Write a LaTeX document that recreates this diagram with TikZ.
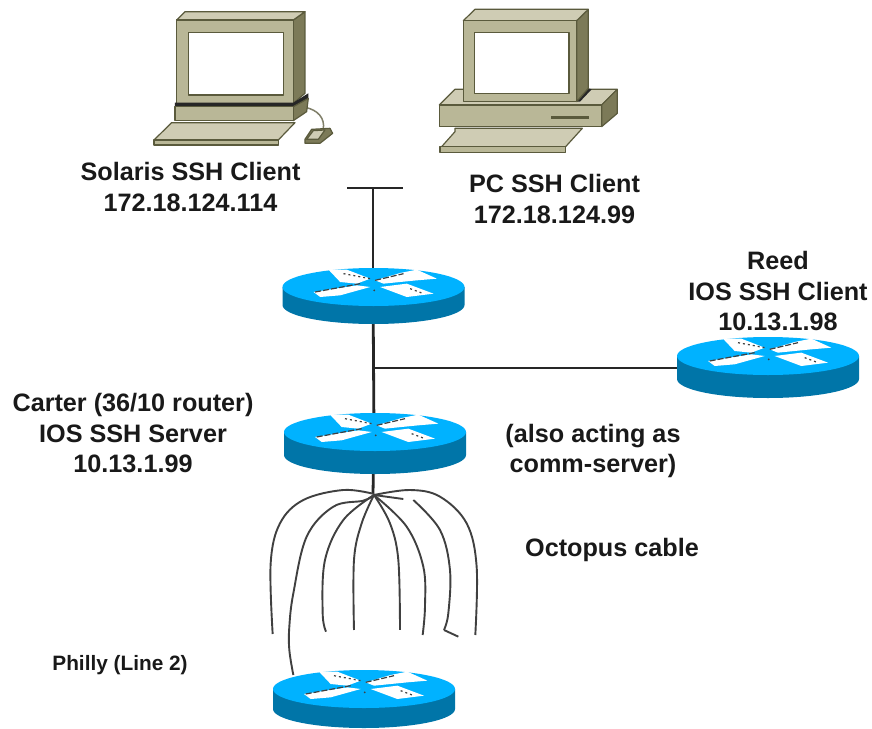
\documentclass[tikz,border=0pt]{standalone}
\usepackage{fontspec}
\setmainfont{Liberation Sans}
\definecolor{rtop}{HTML}{00B2FF}
\definecolor{rside}{HTML}{0075A8}
\definecolor{pcface}{HTML}{CFCCB4}
\definecolor{pcmid}{HTML}{B9B797}
\definecolor{pcside}{HTML}{7C7A58}
\definecolor{pcdark}{HTML}{5A5A3C}
\tikzset{
  lbl/.style={font=\fontsize{25.2}{30.5}\selectfont\bfseries, align=center, text=black!90, inner sep=0pt},
  smalllbl/.style={lbl, font=\fontsize{20.8}{26}\selectfont\bfseries},
  link/.style={draw=black!85, line width=2.8pt},
  tail/.style={draw=black!75, line width=1.9pt, smooth, tension=0.6},
  pcedge/.style={draw=pcdark, line width=1.2pt, line join=round},
}
\newcommand{\routerat}[3]{%
  % #1 centre x, #2 widest y, #3 depth
  \begin{scope}[shift={(#1,#2)}]
    \fill[rside] (-91,0) -- (-91,#3) arc[x radius=91, y radius=19, start angle=180, end angle=0] -- (91,0) -- cycle;
    \fill[rtop] (0,0) ellipse[x radius=91, y radius=19];
    \begin{scope}[x=0.3333pt,y=-0.3333pt]
      \fill[white] (-135,-52) -- (-80,-52) -- (-10,-25) -- (-50,-10) -- (-100,-15) -- cycle;
      \fill[white] (5,-20) -- (80,-42) -- (130,-52) -- (190,-25) -- (130,-20) -- (30,-10) -- cycle;
      \fill[white] (-180,15) -- (-50,-5) -- (-10,0) -- (-100,25) -- (-160,30) -- cycle;
      \fill[white] (20,0) -- (100,-10) -- (180,20) -- (100,30) -- cycle;
      \draw[black!75, line width=1.2pt, dash pattern=on 6pt off 2pt] (-175,15) -- (-40,-10);
      \draw[black!75, line width=1.2pt, dash pattern=on 6pt off 2pt] (5,-20) -- (90,-40);
      \draw[black!75, line width=1.2pt, dash pattern=on 2pt off 3pt] (-90,-40) -- (-10,-25);
      \draw[black!75, line width=1.2pt, dash pattern=on 2pt off 3pt] (110,5) -- (150,20);
      \fill[black!75] (2,10) circle[radius=3];
    \end{scope}
  \end{scope}}
\begin{document}
\begin{tikzpicture}[x=1pt,y=-1pt]
\useasboundingbox (0,0) rectangle (872,728);
\fill[white] (0,0) rectangle (872,728);

% named anchors
\coordinate (bar) at (373,188);
\coordinate (barL) at (347,188);
\coordinate (barR) at (403,188);
\coordinate (r1) at (373,287);
\coordinate (r2) at (374,432);
\coordinate (r3) at (364,689);
\coordinate (r4) at (768,356);
\coordinate (tee) at (373,368);
\coordinate (hub) at (373,494);

% links
\draw[link] (barL) -- (barR);
\draw[link] (bar) -- (r1);
\draw[link] (r1) -- (r2);
\draw[link] (r2) -- (hub);
\draw[link] (tee) -- (r4 |- tee);

% Octopus cable
\begin{scope}[shift={(250,480)},x=0.3333pt,y=-0.3333pt]
\draw[tail] plot coordinates {(372,42) (280,30) (160,60) (90,130) (62,250) (68,462)};
\draw[tail] plot coordinates {(372,45) (340,62) (250,80) (170,170) (130,340) (118,440) (118,510) (130,585)};
\draw[tail] plot coordinates {(372,45) (280,120) (225,240) (218,400) (228,455)};
\draw[tail] plot coordinates {(372,45) (335,130) (312,240) (312,450)};
\draw[tail] plot coordinates {(372,45) (420,130) (445,240) (450,450)};
\draw[tail] plot coordinates {(372,45) (470,140) (520,260) (525,380) (518,465)};
\draw[tail] (372,45) -- (460,57);
\draw[tail] plot coordinates {(490,60) (570,150) (600,270) (595,400) (582,450)};
\draw[tail] (582,450) -- (625,470);
\draw[tail] plot coordinates {(372,45) (480,30) (570,50) (650,130) (680,260) (676,465)};
\end{scope}

% Routers
\routerat{373.5}{287}{18}
\routerat{375}{432}{23}
\routerat{768}{356}{23}
\routerat{364}{689}{20}

% Solaris workstation
\begin{scope}[shift={(130,0)},x=0.3333pt,y=-0.3333pt]
\draw[draw=pcmid!70!black, line width=1.5pt] (525,322) .. controls (565,330) and (585,355) .. (580,388);
\filldraw[pcedge, fill=pcside] (490,60) -- (525,35) -- (525,280) -- (490,310) -- cycle;
\filldraw[pcedge, fill=pcface] (140,60) -- (165,35) -- (525,35) -- (490,60) -- cycle;
\filldraw[pcedge, fill=pcmid] (140,60) rectangle (490,310);
\filldraw[pcedge, fill=white] (175,97) rectangle (460,285);
\fill[black!85] (135,308) -- (490,308) -- (535,280) -- (535,295) -- (490,320) -- (135,320) -- cycle;
\filldraw[pcedge, fill=pcside] (490,320) -- (535,295) -- (530,335) -- (490,362) -- cycle;
\filldraw[pcedge, fill=pcmid] (135,320) rectangle (490,362);
\filldraw[pcedge, fill=pcface] (125,368) -- (495,368) -- (445,420) -- (72,420) -- cycle;
\filldraw[pcedge, fill=pcmid] (72,420) rectangle (445,435);
\filldraw[pcedge, fill=pcside] (525,418) -- (545,388) -- (600,385) -- (608,400) -- (570,430) -- (525,430) -- cycle;
\filldraw[pcedge, fill=pcface] (530,418) -- (550,392) -- (585,390) -- (565,418) -- cycle;
\end{scope}

% PC
\begin{scope}[shift={(420,0)},x=0.3333pt,y=-0.3333pt]
\filldraw[pcedge, fill=pcface] (58,315) -- (105,268) -- (592,268) -- (545,315) -- cycle;
\filldraw[pcedge, fill=pcside] (545,315) -- (592,268) -- (592,340) -- (545,380) -- cycle;
\filldraw[pcedge, fill=pcmid] (58,315) rectangle (545,380);
\fill[pcdark] (393,348) rectangle (507,358);
\fill[black!85] (470,305) -- (505,265) -- (515,268) -- (480,305) -- cycle;
\filldraw[pcedge, fill=pcside] (470,62) -- (505,28) -- (505,265) -- (470,305) -- cycle;
\filldraw[pcedge, fill=pcface] (130,62) -- (165,28) -- (505,28) -- (470,62) -- cycle;
\filldraw[pcedge, fill=pcmid] (130,62) rectangle (470,305);
\filldraw[pcedge, fill=white] (163,97) rectangle (447,280);
\filldraw[pcedge, fill=pcface] (105,385) -- (487,385) -- (437,440) -- (65,440) -- (105,395) -- cycle;
\filldraw[pcedge, fill=pcmid] (60,440) rectangle (437,457);
\end{scope}

% Labels
\node[lbl] (solaris) at (190.5,187) {Solaris SSH Client\\172.18.124.114};
\node[lbl] (pc) at (554.5,199) {PC SSH Client\\172.18.124.99};
\node[lbl] (reed) at (778,291.5) {Reed\\IOS SSH Client\\10.13.1.98};
\node[lbl] (carter) at (133,433.5) {Carter (36/10 router)\\IOS SSH Server\\10.13.1.99};
\node[lbl] (also) at (593,451) {(also acting as\\comm-server)};
\node[lbl] (octo) at (612,550) {Octopus cable};
\node[smalllbl] (philly) at (120,665) {Philly (Line 2)};
\end{tikzpicture}
\end{document}
